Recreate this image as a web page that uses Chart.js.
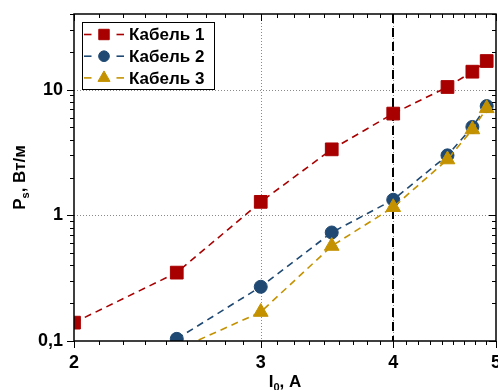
<!DOCTYPE html>
<html>
<head>
<meta charset="utf-8">
<script src="https://cdn.jsdelivr.net/npm/chart.js@4.4.0/dist/chart.umd.min.js"></script>
<style>
  body { margin: 0; background: #fff; }
  #canvas_div { width: 498px; height: 390px; position: relative; }
</style>
</head>
<body>
<div id="canvas_div"><canvas id="myChart"></canvas></div>
<script>
// values (log-log)
const currents = [2, 2.5, 3, 3.5, 4, 4.5, 4.75, 4.9];
const cable1 = [0.14, 0.35, 1.28, 3.35, 6.45, 10.5, 13.9, 16.9];
const cable2 = [null, 0.104, 0.27, 0.73, 1.33, 3.0, 5.05, 7.4];
const cable3 = [null, 0.085, 0.17, 0.57, 1.16, 2.78, 4.82, 7.1];
const seriesNames = ["Кабель 1", "Кабель 2", "Кабель 3"];
const xTicks = [2, 3, 4, 5];
const xTickLabels = ["2", "3", "4", "5"];
const yTicks = [0.1, 1, 10];
const yTickLabels = ["0,1", "1", "10"];
const limitCurrent = 4;
const yTitle = [["P", 17, 0], ["s", 11, 4], [", Вт/м", 17, 0]];
const xTitle = [["I", 17, 0], ["0", 11, 4], [", A", 17, 0]];

const FONT = "'Liberation Sans', Arial, sans-serif";
const colors = ["#a80000", "#1f4973", "#c49200"];
const styles = ["rect", "circle", "triangle"];
const radii = [9, 6.5, 8.5];

const toPoints = (arr) =>
  currents.map((x, i) => ({ x: x, y: arr[i] })).filter((p) => p.y !== null);

const datasets = [cable1, cable2, cable3].map((arr, i) => ({
  label: seriesNames[i],
  data: toPoints(arr),
  borderColor: colors[i],
  backgroundColor: colors[i],
  borderWidth: 1.6,
  borderDash: [7, 5],
  pointStyle: styles[i],
  pointRadius: radii[i],
  pointBorderWidth: 1,
  pointBackgroundColor: colors[i],
  pointBorderColor: colors[i],
  tension: 0,
  order: 2 - i,
}));

const drawParts = (ctx, parts, x, y, centered) => {
  let total = 0;
  parts.forEach((p) => {
    ctx.font = `bold ${p[1]}px ${FONT}`;
    total += ctx.measureText(p[0]).width;
  });
  let cx = centered ? x - total / 2 : x;
  parts.forEach((p) => {
    ctx.font = `bold ${p[1]}px ${FONT}`;
    ctx.fillText(p[0], cx, y + p[2]);
    cx += ctx.measureText(p[0]).width;
  });
};

const noPad = (s) => {
  s.paddingLeft = 0; s.paddingRight = 0; s.paddingTop = 0; s.paddingBottom = 0;
};

const framePlugin = {
  id: "framePlugin",
  beforeDatasetsDraw(chart) {
    const { ctx, chartArea: a, scales } = chart;
    const x = scales.x, y = scales.y;
    ctx.save();
    ctx.strokeStyle = "#8a8a8a";
    ctx.lineWidth = 1;
    ctx.setLineDash([1, 2]);
    xTicks.slice(1, -1).forEach((v) => {
      const px = Math.round(x.getPixelForValue(v)) + 0.5;
      ctx.beginPath(); ctx.moveTo(px, a.top); ctx.lineTo(px, a.bottom); ctx.stroke();
    });
    yTicks.slice(1).forEach((v) => {
      const py = Math.round(y.getPixelForValue(v)) + 0.5;
      ctx.beginPath(); ctx.moveTo(a.left, py); ctx.lineTo(a.right, py); ctx.stroke();
    });
    // vertical dashed line
    const lx = Math.round(x.getPixelForValue(limitCurrent));
    ctx.strokeStyle = "#000";
    ctx.lineWidth = 2;
    ctx.setLineDash([9, 5]);
    ctx.beginPath(); ctx.moveTo(lx, a.top); ctx.lineTo(lx, a.bottom); ctx.stroke();
    ctx.restore();
  },
  afterDatasetsDraw(chart) {
    const { ctx, chartArea: a, scales } = chart;
    const x = scales.x, y = scales.y;
    ctx.save();
    ctx.strokeStyle = "#000";
    ctx.fillStyle = "#000";
    ctx.lineWidth = 1.5;
    ctx.setLineDash([]);
    ctx.strokeRect(a.left, a.top, a.right - a.left, a.bottom - a.top);

    // ticks
    ctx.lineWidth = 1;
    const xt = (v, len) => {
      const px = Math.round(x.getPixelForValue(v)) + 0.5;
      ctx.beginPath(); ctx.moveTo(px, a.bottom); ctx.lineTo(px, a.bottom + len); ctx.stroke();
      ctx.beginPath(); ctx.moveTo(px, a.top); ctx.lineTo(px, a.top + len); ctx.stroke();
    };
    for (let n = 2; n < 5; n++) {
      for (let k = 1; k < 9; k++) xt(n + k / 9, 4);
    }
    xTicks.forEach((v) => xt(v, 7));
    const yt = (v, len) => {
      const py = Math.round(y.getPixelForValue(v)) + 0.5;
      ctx.beginPath(); ctx.moveTo(a.left - len, py); ctx.lineTo(a.left, py); ctx.stroke();
      ctx.beginPath(); ctx.moveTo(a.right - len, py); ctx.lineTo(a.right, py); ctx.stroke();
    };
    yTicks.forEach((d) => {
      for (let m = 2; m < 10; m++) if (m * d <= y.max) yt(m * d, 4);
      yt(d, 7);
    });

    // legend
    const bx = a.left + 8, by = a.top + 8, bw = 132, bh = 67;
    ctx.fillStyle = "#fff";
    ctx.fillRect(bx, by, bw, bh);
    ctx.strokeStyle = "#000";
    ctx.lineWidth = 1;
    ctx.strokeRect(bx + 0.5, by + 0.5, bw, bh);
    datasets.forEach((ds, i) => {
      const ry = by + 12.5 + i * 21.7;
      ctx.strokeStyle = ds.borderColor;
      ctx.lineWidth = 1.6;
      ctx.beginPath(); ctx.moveTo(bx + 2, ry); ctx.lineTo(bx + 9.5, ry); ctx.stroke();
      ctx.beginPath(); ctx.moveTo(bx + 34.5, ry); ctx.lineTo(bx + 42, ry); ctx.stroke();
      ctx.fillStyle = ds.backgroundColor;
      ctx.lineWidth = 1;
      Chart.helpers.drawPoint(ctx, { pointStyle: ds.pointStyle, radius: ds.pointRadius * 0.82, rotation: 0, borderWidth: 1 }, bx + 22, ry);
      ctx.fillStyle = "#000";
      ctx.font = `bold 17px ${FONT}`;
      ctx.textBaseline = "middle";
      ctx.textAlign = "left";
      ctx.fillText(ds.label, bx + 47, ry + 1);
    });

    // axis titles with subscripts
    ctx.fillStyle = "#000";
    ctx.textBaseline = "alphabetic";
    ctx.textAlign = "left";
    drawParts(ctx, xTitle, (a.left + a.right) / 2, 387, true);
    ctx.translate(25, (a.top + a.bottom) / 2);
    ctx.rotate(-Math.PI / 2);
    drawParts(ctx, yTitle, 0, 0, true);
    ctx.restore();
  },
};

const config = {
  type: "line",
  data: { datasets: datasets },
  options: {
    responsive: true,
    maintainAspectRatio: false,
    animation: false,
    layout: { autoPadding: false, padding: { top: 14, right: 2, left: 0, bottom: 0 } },
    plugins: { legend: { display: false }, tooltip: { enabled: false } },
    scales: {
      x: {
        type: "logarithmic",
        min: 2,
        max: 5,
        afterBuildTicks: (s) => { s.ticks = xTicks.map((v) => ({ value: v })); },
        afterFit: (s) => { s.height = 49; noPad(s); },
        grid: { display: false, drawTicks: false },
        border: { display: false },
        ticks: {
          autoSkip: false,
          maxRotation: 0,
          padding: 11,
          color: "#000",
          font: { family: FONT, size: 18, weight: "bold" },
          callback: (v, i) => xTickLabels[i],
        },
      },
      y: {
        type: "logarithmic",
        min: 0.1,
        max: 40,
        afterBuildTicks: (s) => { s.ticks = yTicks.map((v) => ({ value: v })); },
        afterFit: (s) => { s.width = 74; noPad(s); },
        grid: { display: false, drawTicks: false },
        border: { display: false },
        ticks: {
          autoSkip: false,
          padding: 11,
          color: "#000",
          font: { family: FONT, size: 18, weight: "bold" },
          callback: (v, i) => yTickLabels[i],
        },
      },
    },
  },
  plugins: [framePlugin],
};

window.onload = () => {
  new Chart(document.getElementById("myChart"), config);
};
</script>
</body>
</html>
